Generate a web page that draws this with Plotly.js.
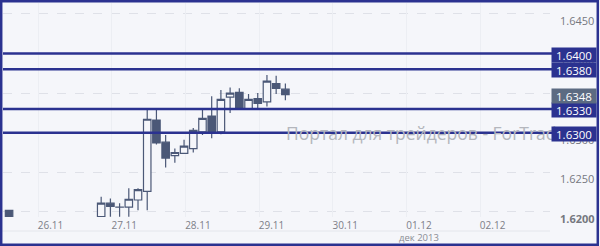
<!DOCTYPE html>
<html><head><meta charset="utf-8">
<script src="https://cdn.plot.ly/plotly-3.0.1.min.js"></script>
<style>html,body{margin:0;padding:0;background:#f5f6fa}#c{width:600px;height:246px}</style>
</head><body><div id="c"></div>
<script>
// 3-hour candles (time = candle centre)
const times = ['2013-11-25 10:30','2013-11-26 16:30','2013-11-26 19:30','2013-11-26 22:30','2013-11-27 01:30','2013-11-27 04:30','2013-11-27 07:30','2013-11-27 10:30','2013-11-27 13:30','2013-11-27 16:30','2013-11-27 19:30','2013-11-27 22:30','2013-11-28 01:30','2013-11-28 04:30','2013-11-28 07:30','2013-11-28 10:30','2013-11-28 13:30','2013-11-28 16:30','2013-11-28 19:30','2013-11-28 22:30','2013-11-29 01:30','2013-11-29 04:30'];
const openV  = [1.6202,1.6194,1.6211,1.6206,1.6206,1.6215,1.6226,1.6316,1.6288,1.6271,1.6274,1.6280,1.6301,1.6321,1.6301,1.6345,1.6351,1.6330,1.6343,1.6339,1.6362,1.6355];
const highV  = [1.62025,1.6219,1.6217,1.6211,1.6230,1.6230,1.6329,1.6329,1.6297,1.6280,1.6291,1.6306,1.6329,1.6346,1.6354,1.6357,1.6356,1.6349,1.6350,1.6373,1.6372,1.6362];
const lowV   = [1.6185,1.6189,1.6194,1.6194,1.6194,1.6202,1.6202,1.6285,1.6256,1.6262,1.6273,1.6275,1.6297,1.6293,1.6298,1.6325,1.6329,1.6329,1.6331,1.6333,1.6349,1.6341];
const closeV = [1.6187,1.6211,1.6207,1.62061,1.6216,1.6228,1.6317,1.6287,1.6268,1.6275,1.6283,1.6303,1.6318,1.6301,1.6342,1.6350,1.6330,1.6342,1.6337,1.6365,1.6356,1.6348];
const levelValues = [1.6400,1.6380,1.6330,1.6300];
const lastPrice = 1.6348;
const yTicks = [1.6200,1.6250,1.6300,1.6350,1.6400,1.6450];
const yTickText = ['<b>1.6200</b>','1.6250','1.6300','1.6350','1.6400','1.6450'];
const xTicks = ['2013-11-26','2013-11-27','2013-11-28','2013-11-29','2013-11-30','2013-12-01','2013-12-02'];
const xTickText = ['26.11','27.11','28.11','29.11','30.11','01.12','02.12'];
const monthLabel = 'дек 2013';
const watermark = 'Портал для трейдеров - ForTrade';

const H = 3600e3;
const anchor = Date.UTC(2013,10,27);
const pxH = 3.07;
const L = 3, R = 550, T = 3, B = 217;
const xr = [anchor - (124.2 - L)/pxH*H, anchor + (R - 124.2)/pxH*H];
const ppu = 7920, y0px = 211.9;
const yr = [1.62 - (B - y0px)/ppu, 1.62 + (y0px - T)/ppu];
const W = R - L, Hh = B - T;
const px = p => (p - L)/W, py = p => (B - p)/Hh;

const candleCol = '#4b5877', navy = '#2b3290', bg = '#f5f6fa';
const data = [{
  type:'candlestick', x: times, open: openV, high: highV, low: lowV, close: closeV,
  increasing:{line:{color:candleCol,width:1.2}, fillcolor:bg},
  decreasing:{line:{color:candleCol,width:1.2}, fillcolor:candleCol},
  whiskerwidth:0, hoverinfo:'skip', showlegend:false
}];
const shapes = levelValues.map(v => ({type:'line', xref:'paper', yref:'y', x0:0, x1:1.004, y0:v, y1:v, line:{color:navy, width:2.5}}));
shapes.push({type:'line', xref:'paper', yref:'paper', x0:px(0), x1:1, y0:py(231), y1:py(231), line:{color:'#e4e6ec', width:1}});
shapes.push({type:'rect', xref:'paper', yref:'paper', x0:px(1.2), x1:px(597.8), y0:py(244.8), y1:py(1.2), line:{color:navy, width:2.5}, fillcolor:'rgba(0,0,0,0)'});
const annotations = [{xref:'paper', yref:'y', x:px(284), y:levelValues[3], xanchor:'left', yanchor:'middle', text:watermark, showarrow:false, font:{family:'Open Sans', size:17.5, color:'#b4b6bd'}, yshift:0}];
levelValues.forEach(v => annotations.push({xref:'paper', yref:'y', x:1, xshift:1, y:v, yshift:-1, xanchor:'left', yanchor:'middle', text:v.toFixed(4), showarrow:false, bgcolor:navy, width:42, height:12, borderpad:1, font:{family:'Open Sans', size:11.5, color:'#ffffff'}}));
annotations.push({xref:'paper', yref:'y', x:1, xshift:1, y:lastPrice, yshift:-1.5, xanchor:'left', yanchor:'middle', text:lastPrice.toFixed(4), showarrow:false, bgcolor:'#5c6b82', width:42, height:12, borderpad:1, font:{family:'Open Sans', size:11.5, color:'#ffffff'}});
annotations.push({xref:'x', yref:'paper', x:xTicks[5], y:py(237), xanchor:'center', yanchor:'middle', text:monthLabel, showarrow:false, font:{family:'Open Sans', size:9.5, color:'#8a8c94'}});

const layout = {
  width:600, height:246, margin:{l:L, r:600-R, t:T, b:246-B, pad:0},
  paper_bgcolor:bg, plot_bgcolor:bg, showlegend:false, boxgap:0, boxgroupgap:0.19,
  xaxis:{type:'date', range:xr, rangeslider:{visible:false}, tickvals:xTicks, ticktext:xTickText, showgrid:false, zeroline:false, showline:false, ticks:'', tickfont:{family:'Open Sans', size:10, color:'#7d8088'}, ticklabelstandoff:1, fixedrange:true},
  xaxis2:{type:'date', overlaying:'x', matches:'x', range:xr, tick0:'2013-11-25 20:00', dtick:86400000, showticklabels:false, showgrid:true, gridcolor:'#eceef3', gridwidth:1, zeroline:false},
  yaxis:{side:'right', range:yr, tickvals:yTicks, ticktext:yTickText, showgrid:true, gridcolor:'#dfe1e8', griddash:'dash', gridwidth:1, zeroline:false, showline:false, ticks:'', tickfont:{family:'Open Sans', size:11, color:'#75787f'}, ticklabelshift:7, ticklabelstandoff:9},
  shapes:shapes, annotations:annotations
};
data.push({type:'scatter', x:[], y:[], xaxis:'x2', yaxis:'y', hoverinfo:'skip', showlegend:false});
Plotly.newPlot('c', data, layout, {staticPlot:true, displayModeBar:false});
</script></body></html>
